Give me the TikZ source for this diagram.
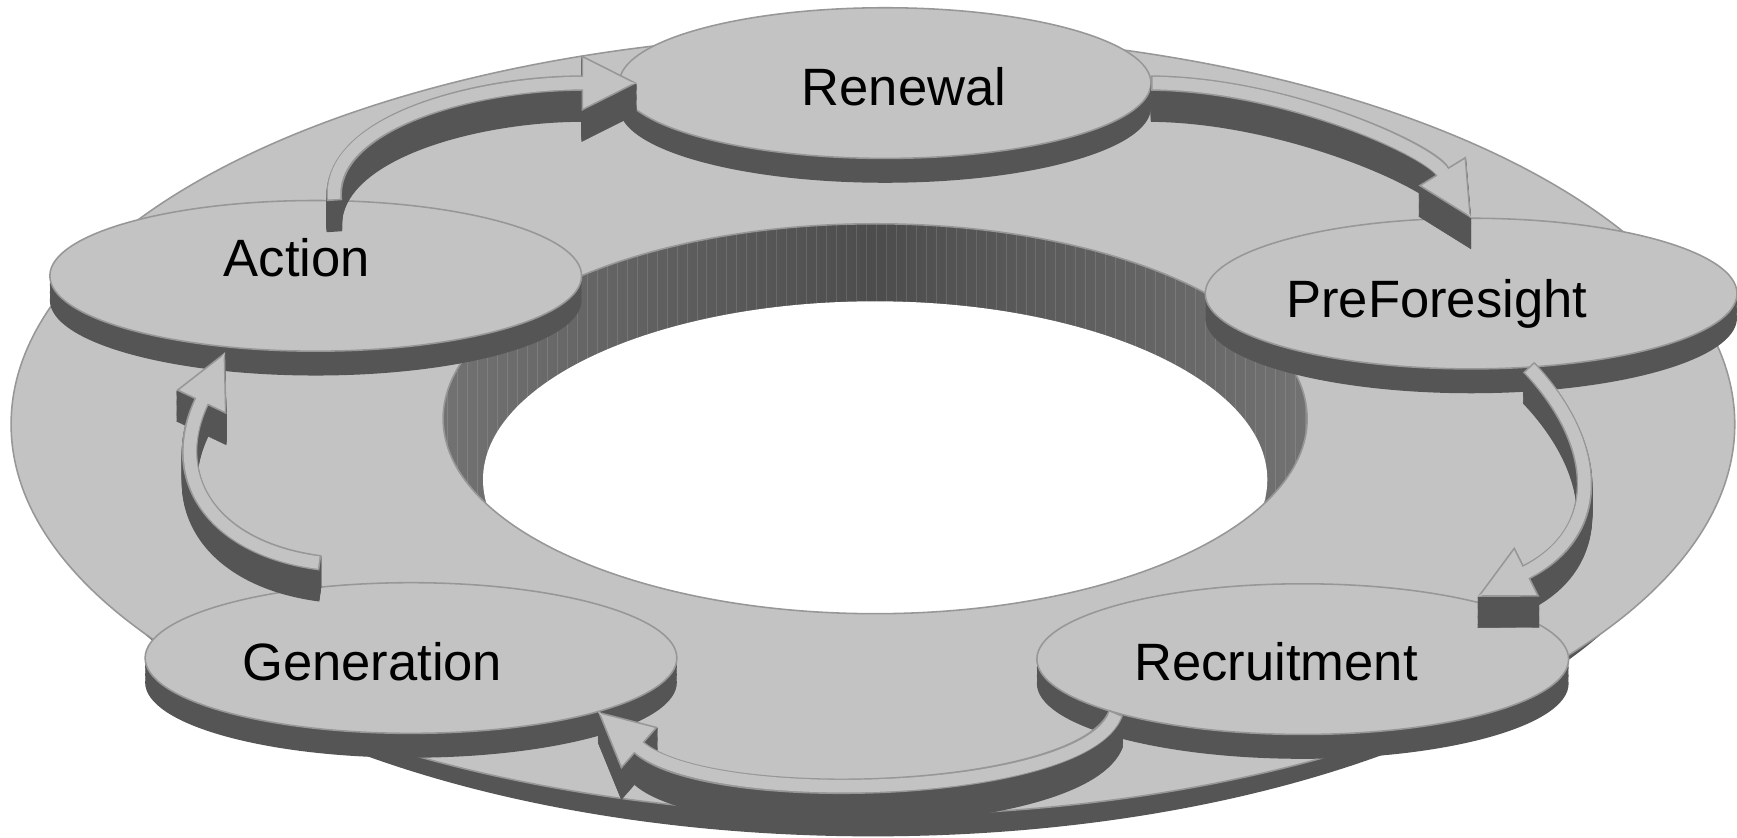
\documentclass[tikz,border=0pt]{standalone}
\usepackage{fontspec}
\setmainfont{Liberation Sans}
\usetikzlibrary{positioning, arrows.meta, shapes.geometric}

\definecolor{facegray}{HTML}{C3C3C3}
\definecolor{edgegray}{HTML}{979797}
\definecolor{wallgray}{HTML}{555555}
\definecolor{holeside}{HTML}{727272}

\tikzset{
  disc/.style={ellipse, minimum width=48mm, minimum height=13.6mm,
    inner sep=0pt, outer sep=0pt,
    fill=facegray, draw=edgegray, line width=0.4pt,
    preaction={fill=wallgray, transform canvas={yshift=-2.2mm}},
    preaction={fill=wallgray, transform canvas={yshift=-1.5mm}},
    preaction={fill=wallgray, transform canvas={yshift=-0.8mm}}},
  stage/.style={font=\fontsize{13.5}{16}\selectfont, anchor=base, inner sep=0pt},
  ribbonwall/.style={draw=wallgray, line width=1.4mm,
    -{Triangle[length=5mm, width=5mm, line width=0.1pt, fill=wallgray]}},
  ribbonedge/.style={draw=edgegray, line width=1.4mm,
    -{Triangle[length=5mm, width=5mm, line width=0.4pt, fill=facegray]}},
  ribbonface/.style={draw=facegray, line width=1.13mm, shorten <=0.15mm,
    -{Triangle[length=4.8mm, width=1.13mm, line width=0.1pt, fill=facegray]}}
}

% raised ribbon arrow: start, two control points, tip
\newcommand\flowarrow[4]{%
  \foreach \lift in {1,...,28}
    \draw[ribbonwall, transform canvas={yshift=-\lift*0.1mm}] #1 .. controls #2 and #3 .. #4;
  \draw[ribbonedge] #1 .. controls #2 and #3 .. #4;
  \draw[ribbonface] #1 .. controls #2 and #3 .. #4;
}

\begin{document}
\begin{tikzpicture}[x=0.1mm, y=-0.1mm]

\useasboundingbox (0,0) rectangle (1568,756);
\fill[white] (0,0) rectangle (1568,756);

% ---------- BASE RING ----------

\fill[wallgray] (788,410) ellipse [x radius=74.5mm, y radius=34.5mm];
\filldraw[fill=facegray, draw=edgegray, line width=0.4pt]
  (788,383) ellipse [x radius=77.8mm, y radius=35.3mm];

% hole in the middle
\fill[left color=holeside, right color=holeside, middle color=wallgray!90!black]
  (790,378) ellipse [x radius=39mm, y radius=17.6mm];
\begin{scope}
  \clip (790,378) ellipse [x radius=39mm, y radius=17.6mm];
  \foreach \xx in {404,413,...,1180}
    \draw[white, opacity=0.12, line width=0.15pt] (\xx,200) -- (\xx,560);
  \fill[white] (790,433) ellipse [x radius=35.4mm, y radius=16.1mm];
\end{scope}
\draw[edgegray, line width=0.4pt] (790,378) ellipse [x radius=39mm, y radius=17.6mm];

% ---------- DISCS ----------

\node[disc] (ren) at (799,75) {};
\node[disc] (act) at (285,249) {};
\node[disc] (pre) at (1328,265) {};
\node[disc] (rec) at (1176,595) {};
\node[disc] (gen) at (371,594) {};

% ---------- ARROWS ----------

\flowarrow{(act.76)}{(295,110)}{(430,75)}{([xshift=1.6mm]ren.west)}
\flowarrow{(ren.east)}{(1160,76)}{(1290,135)}{(pre.north)}
\flowarrow{(pre.-52)}{(1445,400)}{(1450,480)}{([yshift=0.5mm]rec.18)}
\flowarrow{(rec.196)}{(980,720)}{(640,730)}{(gen.-16)}
\flowarrow{([yshift=2.2mm]gen.142)}{(190,495)}{(150,430)}{([yshift=-0.5mm]act.218)}

% ---------- LABELS ----------

\node[stage] (renT) at (816,95) {Renewal};
\node[stage] (actT) at (268,250) {Action};
\node[stage] (preT) at (1297,287) {PreForesight};
\node[stage] (recT) at (1152,614) {Recruitment};
\node[stage] (genT) at (336,614) {Generation};

\end{tikzpicture}
\end{document}
